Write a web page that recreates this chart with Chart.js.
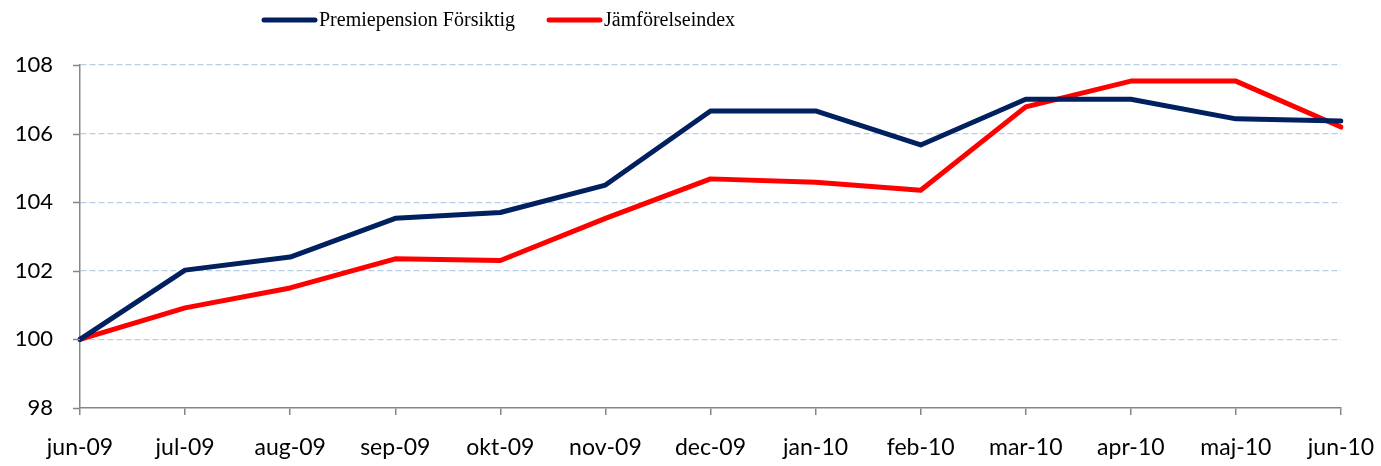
<!DOCTYPE html>
<html><head><meta charset="utf-8">
<script src="https://cdn.jsdelivr.net/npm/chart.js@4/dist/chart.umd.min.js"></script>
<style>html,body{margin:0;padding:0;background:#fff}#wrap{width:1381px;height:466px}</style>
</head><body><div id="wrap"><canvas id="c" width="1381" height="466"></canvas></div>
<script>
const categories = ["jun-09","jul-09","aug-09","sep-09","okt-09","nov-09","dec-09","jan-10","feb-10","mar-10","apr-10","maj-10","jun-10"];
const premiepension = [100, 102.02, 102.4, 103.53, 103.7, 104.5, 106.66, 106.66, 105.67, 107.0, 107.0, 106.43, 106.37];
const jamforelseindex = [100, 100.92, 101.5, 102.35, 102.3, 103.53, 104.68, 104.58, 104.35, 106.78, 107.53, 107.53, 106.19];
const yTicks = [98, 100, 102, 104, 106, 108];

const legendStarts = [264, 549];
const customLegend = {
  id: 'customLegend',
  afterDraw(chart) {
    const ctx = chart.ctx;
    ctx.save();
    ctx.font = '20px "Liberation Serif"';
    ctx.textBaseline = 'middle';
    ctx.textAlign = 'left';
    const y = 20;
    chart.data.datasets.forEach((ds, i) => {
      const x = legendStarts[i];
      ctx.strokeStyle = ds.borderColor;
      ctx.lineWidth = 5;
      ctx.lineCap = 'round';
      ctx.beginPath(); ctx.moveTo(x, y); ctx.lineTo(x + 51, y); ctx.stroke();
      ctx.fillStyle = '#000';
      ctx.fillText(ds.label, x + 55, y + 1);
    });
    ctx.restore();
  }
};

const yTickMarks = {
  id: 'yTickMarks',
  afterDraw(chart) {
    const ctx = chart.ctx, y = chart.scales.y, a = chart.chartArea;
    ctx.save();
    ctx.strokeStyle = '#868686'; ctx.lineWidth = 1.5;
    yTicks.forEach(v => {
      const py = Math.round(y.getPixelForValue(v)) + 0.5;
      ctx.beginPath(); ctx.moveTo(a.left - 7, py); ctx.lineTo(a.left, py); ctx.stroke();
    });
    ctx.restore();
  }
};

new Chart(document.getElementById('c'), {
  type: 'line',
  data: {
    labels: categories,
    datasets: [
      {label: 'Premiepension Försiktig', data: premiepension, borderColor: '#002060', backgroundColor: '#002060', borderWidth: 5, pointRadius: 0, tension: 0, borderCapStyle: 'round', borderJoinStyle: 'round'},
      {label: 'Jämförelseindex', data: jamforelseindex, borderColor: '#ff0000', backgroundColor: '#ff0000', borderWidth: 5, pointRadius: 0, tension: 0, borderCapStyle: 'round', borderJoinStyle: 'round'}
    ]
  },
  options: {
    responsive: false,
    animation: false,
    layout: {padding: {left: 0, right: 40, top: 65, bottom: 0}},
    plugins: {
      legend: {display: false},
      tooltip: {enabled: false}
    },
    scales: {
      x: {
        offset: false,
        grid: {display: true, drawOnChartArea: false, drawTicks: true, tickLength: 7, color: '#868686', lineWidth: 1.5},
        border: {display: true, color: '#868686', width: 1.5},
        ticks: {font: {family: 'Lato', size: 23}, color: '#000', padding: 19, maxRotation: 0, autoSkip: false},
        afterFit: (s) => { s.height = 58; s.paddingRight = 0; s.paddingLeft = 0; }
      },
      y: {
        min: 98, max: 108,
        afterBuildTicks: (s) => { s.ticks = yTicks.map(v => ({value: v})); },
        grid: {color: (ctx) => ctx.tick && ctx.tick.value === 98 ? 'rgba(0,0,0,0)' : '#b9cde5', lineWidth: 1.3, drawTicks: false, tickLength: 0},
        border: {display: true, color: '#868686', width: 1.5, dash: [6, 3]},
        ticks: {font: {family: 'Lato', size: 22}, color: '#000', padding: 27},
        afterFit: (s) => { s.width = 80; s.paddingTop = 0; s.paddingBottom = 0; }
      }
    }
  },
  plugins: [yTickMarks, customLegend]
});
</script></body></html>
